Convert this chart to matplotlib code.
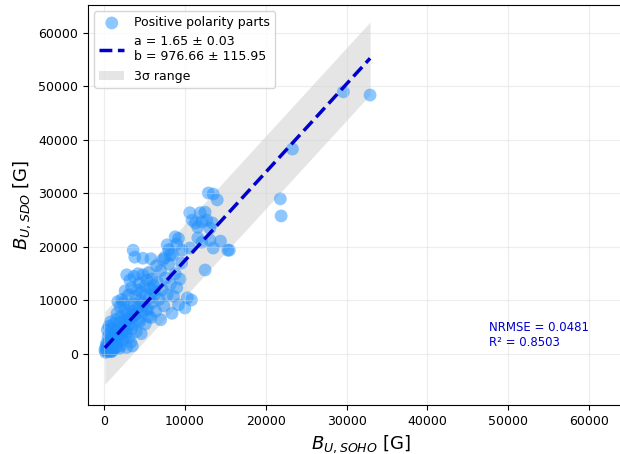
import numpy as np
import matplotlib
matplotlib.use("Agg")
import matplotlib.pyplot as plt

# B_U values (SOHO on x, SDO on y), in gauss
b_soho = [
    200, 300, 400, 500, 600, 700, 800, 900, 1000, 1100, 1200, 1300, 1400, 1500, 300,
    500, 700, 200, 900, 1100, 400, 600, 800, 1000, 1200, 1400, 1500, 100, 350, 650,
    1600, 1700, 1800, 1900, 2000, 2100, 2200, 2300, 2400, 2500, 2600, 2700, 2800, 2900, 3000,
    3100, 3200, 3300, 3400, 3500, 1700, 2000, 2400, 2800, 3300, 1600, 2200, 3000, 2600, 3400,
    3600, 3700, 3800, 3900, 4000, 4100, 4200, 4300, 4400, 4500, 4600, 4700, 4800, 4900, 5000,
    5100, 5200, 5300, 5400, 5500, 5600, 5700, 5800, 5900, 6000, 3700, 4200, 4600, 3500,
    6200, 6400, 6600, 6800, 7000, 7200, 7400, 7600, 7800, 8000, 8200, 8400, 8600, 8800, 9000,
    9200, 9400, 9600, 7000, 7500, 8000, 8500, 9000, 6500, 5800,
    2800, 3200, 3600, 3800, 4800, 10000, 10300, 10800, 12500,
    7800, 8800, 9200, 7300, 8200, 9650, 10600, 11600, 12100, 13100, 14400, 15300, 13500,
    10600, 10900, 11900, 12500, 12700, 13400, 12100, 11300, 13100, 11600, 12900, 13500, 14000,
    15500, 21800, 21900, 23300, 29600, 32900,
    800, 1300, 1900, 2500, 3100, 4400, 5200, 6100, 1000, 1800, 2700, 3900, 4700, 5500, 6300,
]
b_sdo = [
    300, 800, 500, 1500, 1000, 2200, 400, 2800, 1700, 3500, 900, 2500, 4200, 1300, 2000,
    3200, 3800, 1200, 600, 1100, 4500, 5200, 6000, 4800, 5600, 3000, 6500, 700, 1700, 2600,
    2000, 3300, 4600, 5800, 1500, 7000, 3900, 2600, 5100, 6300, 8200, 4200, 1200, 7400, 5400,
    3100, 9000, 6600, 4700, 8000, 9800, 8800, 9500, 6000, 2200, 7600, 10200, 11000, 11800, 12400,
    5500, 9300, 7200, 10800, 4200, 12000, 8600, 6400, 13200, 10000, 11600, 7800, 14800, 9000, 12600,
    5600, 11000, 13800, 8400, 15200, 10400, 12200, 6800, 14000, 9600, 14500, 15000, 3800, 1500,
    11800, 8000, 13400, 10200, 15600, 12000, 9000, 14200, 11000, 16800, 13000, 7600, 10800, 15000, 12400,
    9200, 14000, 17000, 6400, 18000, 19500, 18500, 20500, 16500, 17800,
    14800, 13800, 19400, 18100, 17900, 8600, 10500, 10100, 15700,
    20400, 21900, 21600, 17600, 18500, 19400, 19800, 21700, 20900, 21300, 21100, 19400, 19800,
    26400, 25000, 26400, 26500, 25000, 24500, 24700, 24500, 23500, 23700, 30100, 29900, 28800,
    19400, 29000, 25800, 38300, 49000, 48400,
    1900, 3600, 1000, 4400, 6800, 6000, 8200, 12800, 500, 3000, 3400, 7400, 9400, 7000, 11200,
]

slope, slope_err = 1.65, 0.03
intercept, intercept_err = 976.66, 115.95
sigma3 = 6800
nrmse, r2 = 0.0481, 0.8503

x = np.array(b_soho, dtype=float)
y = np.array(b_sdo, dtype=float)
xs = np.sort(x)
fit = slope * xs + intercept

fig = plt.figure(figsize=(6.2, 4.54), dpi=100)
ax = fig.add_axes([0.142, 0.108, 0.88, 0.881])

ax.fill_between(xs, fit - sigma3, fit + sigma3, color="gray", alpha=0.2,
                linewidth=0, label="3σ range")
ax.scatter(x, y, s=85, color="dodgerblue", alpha=0.5, edgecolors="none",
           label="Positive polarity parts")
ax.plot(xs, fit, "--", color="mediumblue", linewidth=2.5,
        label=f"a = {slope:.2f} ± {slope_err:.2f}\nb = {intercept:.2f} ± {intercept_err:.2f}")

ax.text(47600, 1000, f"NRMSE = {nrmse}\nR² = {r2}", color="mediumblue",
        fontsize=8.5, va="bottom", ha="left")

handles, labels = ax.get_legend_handles_labels()
order = [1, 2, 0]
ax.legend([handles[i] for i in order], [labels[i] for i in order],
          loc="upper left", fontsize=9)

ax.set_xlim(-1980, 65500)
ax.set_ylim(-9530, 65230)
ticks = np.arange(0, 60001, 10000)
ax.set_xticks(ticks)
ax.set_yticks(ticks)
ax.tick_params(labelsize=9)
ax.grid(True, color="lightgray", alpha=0.4)
ax.set_xlabel("$B_{U,SOHO}$ [G]", fontsize=13)
ax.set_ylabel("$B_{U,SDO}$ [G]", fontsize=13)

fig.savefig("out.png", dpi=100)
